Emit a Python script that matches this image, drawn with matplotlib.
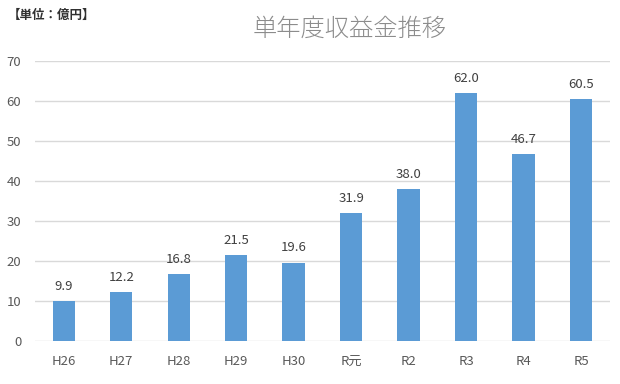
import matplotlib
matplotlib.use('agg')
import matplotlib.pyplot as plt

plt.rcParams['font.family'] = ['Noto Sans CJK JP', 'DejaVu Sans']

# Data
years = ['H26', 'H27', 'H28', 'H29', 'H30', 'R元', 'R2', 'R3', 'R4', 'R5']
income = [9.9, 12.2, 16.8, 21.5, 19.6, 31.9, 38.0, 62.0, 46.7, 60.5]

fig = plt.figure(figsize=(6.2, 3.84), dpi=100)
ax = fig.add_axes([0.0565, 0.112, 0.927, 0.729])

x = range(len(years))
ax.bar(x, income, width=0.39, color='#5B9BD5', zorder=3)

# value labels above each bar
for xi, v in zip(x, income):
    ax.text(xi, v + 3.7, f"{v:.1f}", ha='center', va='center',
            fontsize=9.5, color='#404040')

ax.set_xlim(-0.5, len(years) - 0.5)
ax.set_ylim(0, 70)
ax.set_yticks(range(0, 71, 10))
ax.set_xticks(list(x))
ax.set_xticklabels(years)
ax.grid(axis='y', color='#D9D9D9', linewidth=1, zorder=0)
for s in ax.spines.values():
    s.set_visible(False)
ax.tick_params(axis='both', length=0, labelsize=9.5, colors='#595959')
ax.tick_params(axis='x', pad=10)
ax.tick_params(axis='y', pad=10)

fig.text(0.564, 0.924, '単年度収益金推移', ha='center', va='center',
         fontsize=17.5, color='#8C8C8C', fontweight='light')
fig.text(0.012, 0.961, '【単位：億円】', ha='left', va='center',
         fontsize=9, color='#303030', fontweight='bold')

fig.savefig('out.png', dpi=100)
